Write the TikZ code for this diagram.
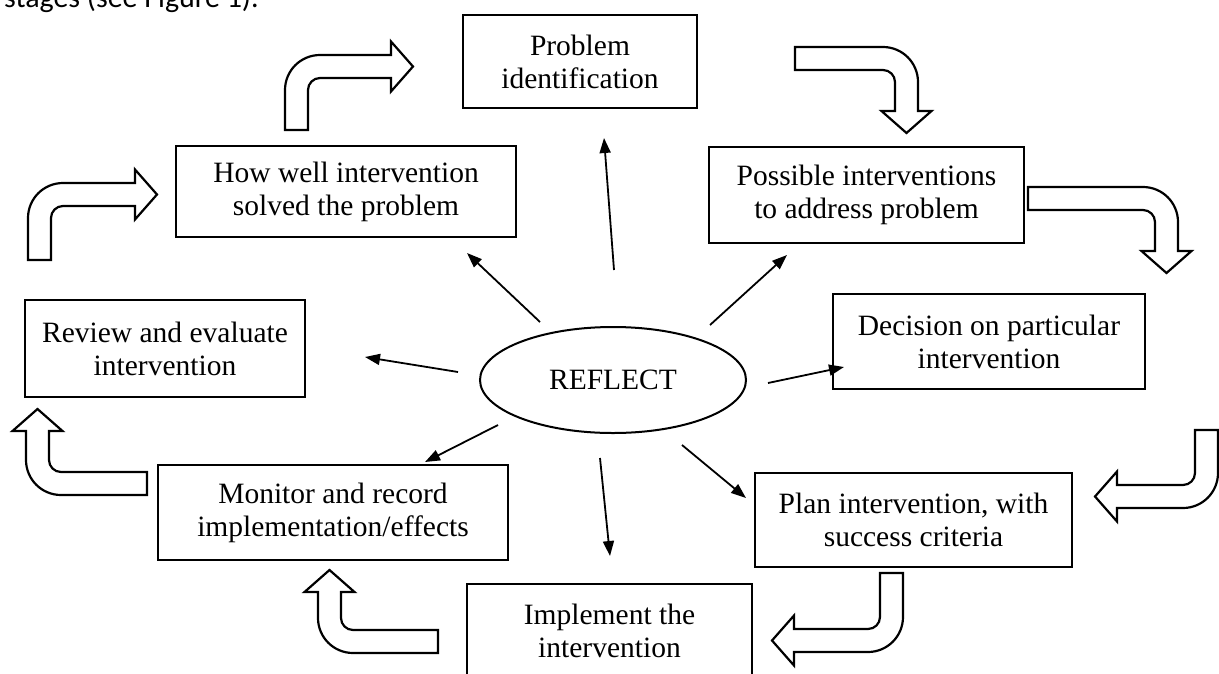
\documentclass[tikz,border=0pt]{standalone}
\usepackage{fontspec}
\setmainfont{Liberation Serif}
\newfontfamily\capfont{Carlito}
\usetikzlibrary{arrows.meta,shapes.geometric}

% #1 origin, #2 rotation, #3 H (base to outer edge of shaft), #4 L (base side to tip)
\newcommand{\bentarrow}[4]{%
  \draw[blockarrow, shift={(#1)}, rotate=#2]
    (0,0) -- (0,{-#3+35}) arc[start angle=180,end angle=270,radius=35]
    -- ({#4-22},-#3) -- ({#4-22},{-#3-13.5}) -- (#4,{-#3+11.5})
    -- ({#4-22},{-#3+36.5}) -- ({#4-22},{-#3+23}) -- (35,{-#3+23})
    arc[start angle=270,end angle=180,radius=12] -- (23,0) -- cycle;
}

\begin{document}
\begin{tikzpicture}[x=1pt,y=-1pt,
  box/.style={draw, line width=2pt, align=center, inner sep=0pt,
    font=\fontsize{29.5}{33}\selectfont},
  blockarrow/.style={draw, line width=2.2pt, fill=white},
  spoke/.style={line width=1.8pt, -{Triangle[length=15pt,width=11pt]}}]
\useasboundingbox (0,0) rectangle (1219,673);
\clip (0,0) rectangle (1219,673);
\fill[white] (0,0) rectangle (1219,673);

\node[anchor=base west, inner sep=0pt, font=\capfont\fontsize{30}{36}\selectfont] (cap) at (4,7) {stages (see Figure 1).};

\node[box, minimum width=234pt, minimum height=93pt] (prob) at (580,61.5) {Problem\\identification};
\node[box, minimum width=340pt, minimum height=91pt] (how) at (346,191.5) {How well intervention\\solved the problem};
\node[box, minimum width=315pt, minimum height=96pt] (poss) at (866.5,195) {Possible interventions\\to address problem};
\node[box, minimum width=280pt, minimum height=97pt] (rev) at (165,348.5) {Review and evaluate\\intervention};
\node[box, minimum width=312pt, minimum height=95pt] (dec) at (989,341.5) {Decision on particular\\intervention};
\node[box, minimum width=350pt, minimum height=95pt] (mon) at (333,512.5) {Monitor and record\\implementation/effects};
\node[box, minimum width=317pt, minimum height=94pt] (plan) at (913.5,520) {Plan intervention, with\\success criteria};
\node[box, minimum width=285pt, minimum height=94pt] (impl) at (609.5,631) {Implement the\\intervention};
\node[draw, ellipse, line width=2pt, minimum width=266pt, minimum height=106pt,
  font=\fontsize{29.5}{33}\selectfont] (reflect) at (613,380) {REFLECT};

% bent block arrows
\bentarrow{285,130}{0}{75}{128}
\bentarrow{28,260}{0}{77}{129}
\bentarrow{795,47}{-90}{123}{86}
\bentarrow{1028,187}{-90}{150}{86}
\bentarrow{1218,430}{180}{78}{123}
\bentarrow{903,573}{180}{79}{131}
\bentarrow{438,653}{90}{120}{83}
\bentarrow{147,495}{90}{121}{86}

% spokes
\coordinate (s1) at (614,270); \coordinate (t1) at (604,138);
\coordinate (s2) at (540,322); \coordinate (t2) at (467,253);
\coordinate (s3) at (710,325); \coordinate (t3) at (787,255);
\coordinate (s4) at (458,372); \coordinate (t4) at (365,357);
\coordinate (s5) at (768,383); \coordinate (t5) at (844,367);
\coordinate (s6) at (498,425); \coordinate (t6) at (425,462);
\coordinate (s7) at (682,445); \coordinate (t7) at (746,498);
\coordinate (s8) at (600,458); \coordinate (t8) at (610,556);
\foreach \i in {1,...,8} \draw[spoke] (s\i) -- (t\i);
\end{tikzpicture}
\end{document}
